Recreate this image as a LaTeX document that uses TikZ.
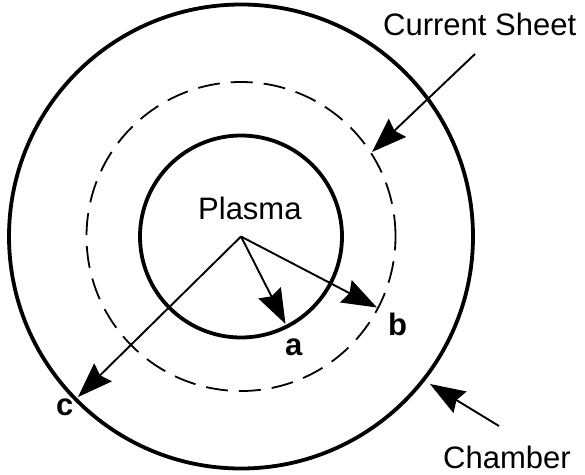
\documentclass[tikz,border=0pt]{standalone}
\usepackage{fontspec}
\setmainfont{Liberation Sans}
\usetikzlibrary{arrows.meta}
\begin{document}
\begin{tikzpicture}[x=1pt,y=-1pt,
  ring/.style={line width=3.8pt},
  sheet/.style={line width=1.8pt, dash pattern=on 22pt off 11pt},
  ray/.style={line width=1.9pt, -{Stealth[length=35pt,width=25pt,inset=4pt]}},
  lbl/.style={font=\fontsize{31}{37}\selectfont, inner sep=0pt, anchor=base west},
  blbl/.style={font=\fontsize{31}{37}\selectfont\bfseries, inner sep=0pt, anchor=base west}]
\useasboundingbox (0,0) rectangle (585,474);
\coordinate (O) at (241,236.5);
\draw[ring] (O) circle[radius=232pt];
\draw[ring] (O) circle[radius=101pt];
\draw[sheet] (O) circle[radius=154.5pt];
\coordinate (A) at (285.5,324);
\coordinate (B) at (377,307.5);
\coordinate (C) at (78,397);
\coordinate (cs0) at (475,54);
\coordinate (cs1) at (372,152);
\coordinate (ch0) at (499,426);
\coordinate (ch1) at (430,384);
\draw[ray] (O) -- (A);
\draw[ray] (O) -- (B);
\draw[ray] (O) -- (C);
\draw[ray] (cs0) -- (cs1);
\draw[ray] (ch0) -- (ch1);
\node[lbl] (plasma) at (198,219) {Plasma};
\node[lbl] (csheet) at (383,35) {Current Sheet};
\node[lbl] (chamber) at (443,468) {Chamber};
\node[blbl] (la) at (285,355) {a};
\node[blbl] (lb) at (388,335) {b};
\node[blbl] (lc) at (56,415) {c};
\end{tikzpicture}
\end{document}
